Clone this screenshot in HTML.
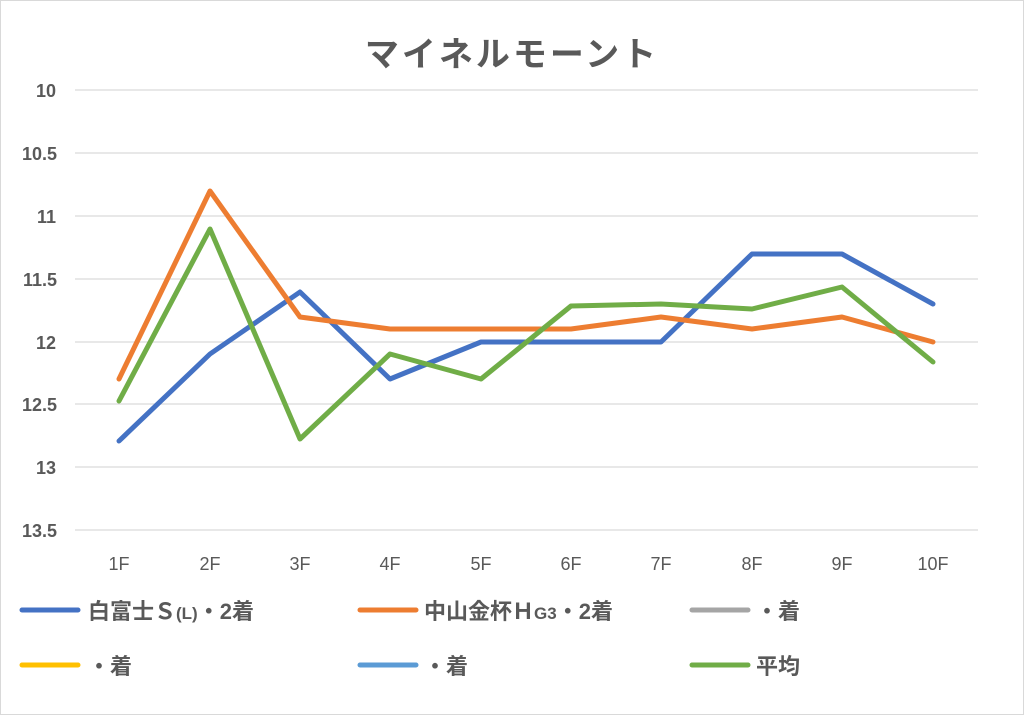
<!DOCTYPE html>
<html><head><meta charset="utf-8"><style>
html,body{margin:0;padding:0;background:#fff;}
svg text{font-family:"Liberation Sans","Noto Sans CJK JP",sans-serif;}
</style></head><body>
<svg width="1024" height="715" xmlns="http://www.w3.org/2000/svg">
<rect x="0.5" y="0.5" width="1023" height="714" fill="#fff" stroke="#d9d9d9"/>
<text x="512" y="66" text-anchor="middle" font-size="34" font-weight="bold" fill="#595959" letter-spacing="3">マイネルモーント</text>
<g stroke="#d9d9d9" stroke-width="1.3">
<line x1="75" x2="978" y1="90" y2="90"/><line x1="75" x2="978" y1="153" y2="153"/>
<line x1="75" x2="978" y1="216" y2="216"/><line x1="75" x2="978" y1="279" y2="279"/>
<line x1="75" x2="978" y1="342" y2="342"/><line x1="75" x2="978" y1="404" y2="404"/>
<line x1="75" x2="978" y1="467" y2="467"/><line x1="75" x2="978" y1="530" y2="530"/>
</g>
<g font-size="18" font-weight="bold" fill="#595959" text-anchor="end">
<text x="56" y="97">10</text><text x="57" y="160">10.5</text><text x="56" y="223">11</text>
<text x="57" y="286">11.5</text><text x="56" y="349">12</text><text x="57" y="411">12.5</text>
<text x="56" y="474">13</text><text x="57" y="537">13.5</text>
</g>
<g font-size="18" fill="#595959" text-anchor="middle">
<text x="119" y="570">1F</text><text x="210" y="570">2F</text><text x="300" y="570">3F</text>
<text x="390" y="570">4F</text><text x="481" y="570">5F</text><text x="571" y="570">6F</text>
<text x="661" y="570">7F</text><text x="752" y="570">8F</text><text x="842" y="570">9F</text>
<text x="933" y="570">10F</text>
</g>
<g fill="none" stroke-width="5" stroke-linejoin="round" stroke-linecap="round">
<polyline stroke="#4472c4" points="119,441 210,354 300,292 390,379 481,342 571,342 661,342 752,254 842,254 933,304"/>
<polyline stroke="#ed7d31" points="119,379 210,191 300,317 390,329 481,329 571,329 661,317 752,329 842,317 933,342"/>
<polyline stroke="#70ad47" points="119,401 210,229 300,439 390,354 481,379 571,306 661,304 752,309 842,287 933,362"/>
</g>
<g stroke-width="5" stroke-linecap="round">
<line x1="22" x2="78" y1="610" y2="610" stroke="#4472c4"/>
<line x1="360" x2="416" y1="610" y2="610" stroke="#ed7d31"/>
<line x1="692" x2="748" y1="610" y2="610" stroke="#a5a5a5"/>
<line x1="22" x2="78" y1="665" y2="665" stroke="#ffc000"/>
<line x1="360" x2="416" y1="665" y2="665" stroke="#5b9bd5"/>
<line x1="692" x2="748" y1="665" y2="665" stroke="#70ad47"/>
</g>
<g font-size="22" font-weight="bold" fill="#595959">
<text x="88" y="619">白富士Ｓ<tspan font-size="17">(L)</tspan>・2着</text>
<text x="424" y="619">中山金杯Ｈ<tspan font-size="17">G3</tspan>・2着</text>
<text x="756" y="619">・着</text>
<text x="88" y="674">・着</text>
<text x="424" y="674">・着</text>
<text x="756" y="674">平均</text>
</g>
</svg>
</body></html>
